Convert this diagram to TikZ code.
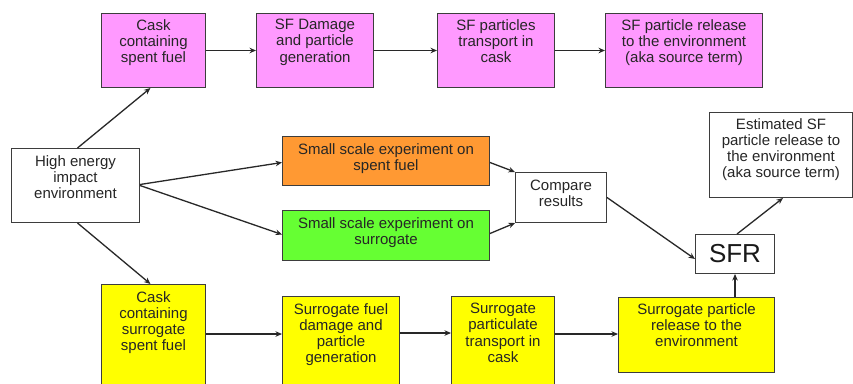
\documentclass[tikz,border=0pt]{standalone}
\usepackage{fontspec}
\setmainfont{Liberation Sans}
\usetikzlibrary{arrows.meta}
\definecolor{pinkc}{RGB}{255,153,255}
\definecolor{orangec}{RGB}{255,153,51}
\definecolor{greenc}{RGB}{102,255,51}
\definecolor{yellowc}{RGB}{255,255,0}
\definecolor{linec}{RGB}{40,40,40}
\tikzset{
  box/.style={draw=linec!90, line width=1pt, inner sep=0pt, anchor=north west},
  txt/.style={inner sep=0pt, anchor=north, align=center, text=black!85,
    font=\fontsize{15}{16.3}\selectfont},
  arr/.style={draw=linec, line width=1.3pt, -{Stealth[length=6.5pt,width=5.5pt]}},
}
\newcommand{\mybox}[6]{% name, x1,y1,x2,y2, fill
  \node[box, fill=#6, minimum width=#4pt-#2pt, minimum height=#5pt-#3pt] (#1) at (#2,#3) {};}
\begin{document}
\begin{tikzpicture}[x=1pt,y=-1pt]
\useasboundingbox (0,0) rectangle (853,383);
\clip (0,0) rectangle (853,383);
\fill[white] (0,0) rectangle (853,383);
% boxes
\mybox{c1}{101}{13}{205}{87}{pinkc}
\mybox{c2}{256}{13}{373}{87}{pinkc}
\mybox{c3}{437}{13}{554}{87}{pinkc}
\mybox{c4}{605}{13}{762}{87}{pinkc}
\mybox{he}{11}{148}{139}{222}{white}
\mybox{or}{282}{136}{489}{185}{orangec}
\mybox{gr}{282}{210}{489}{260}{greenc}
\mybox{cmp}{515}{172}{606}{222}{white}
\mybox{est}{709}{112}{852}{197}{white}
\mybox{sfr}{695}{234}{774}{273}{white}
\mybox{y1}{101}{284}{205}{395}{yellowc}
\mybox{y2}{282}{296}{399}{395}{yellowc}
\mybox{y3}{451}{296}{554}{395}{yellowc}
\mybox{y4}{618}{297}{774}{372}{yellowc}
% texts
\node[txt] (c1t) at ([yshift=-6pt]c1.north) {Cask\\containing\\spent fuel};
\node[txt] (c2t) at ([yshift=-6pt]c2.north) {SF Damage\\and particle\\generation};
\node[txt] (c3t) at ([yshift=-6pt]c3.north) {SF particles\\transport in\\cask};
\node[txt] (c4t) at ([yshift=-6pt]c4.north) {SF particle release\\to the environment\\(aka source term)};
\node[txt] (het) at ([yshift=-7pt]he.north) {High energy\\impact\\environment};
\node[txt] (ort) at ([yshift=-7pt]or.north) {Small scale experiment on\\spent fuel};
\node[txt] (grt) at ([yshift=-7pt]gr.north) {Small scale experiment on\\surrogate};
\node[txt] (cmpt) at ([yshift=-8pt]cmp.north) {Compare\\results};
\node[txt] (estt) at ([yshift=-6pt]est.north) {Estimated SF\\particle release to\\the environment\\(aka source term)};
\node[inner sep=0pt, text=black!90, font=\fontsize{26}{28}\selectfont] (sfrt) at (sfr.center) {SFR};
\node[txt] (y1t) at ([yshift=-7pt]y1.north) {Cask\\containing\\surrogate\\spent fuel};
\node[txt] (y2t) at ([yshift=-7pt]y2.north) {Surrogate fuel\\damage and\\particle\\generation};
\node[txt] (y3t) at ([yshift=-7pt]y3.north) {Surrogate\\particulate\\transport in\\cask};
\node[txt] (y4t) at ([yshift=-6pt]y4.north) {Surrogate particle\\release to the\\environment};
% connectors
\draw[arr] ([xshift=2pt]he.north) -- ([xshift=-3pt]c1.south);
\draw[arr] ([yshift=1pt]he.east) -- ([yshift=-1.5pt]or.west);
\draw[arr] (he.east) -- ([yshift=1pt]gr.west);
\draw[arr] ([xshift=2pt]he.south) -- ([xshift=-3pt]y1.north);
\draw[arr] (c1.east) -- (c2.west);
\draw[arr] (c2.east) -- (c3.west);
\draw[arr] (c3.east) -- (c4.west);
\draw[arr] ([yshift=-1.5pt]or.east) -- (cmp.north west);
\draw[arr] ([yshift=2pt]gr.east) -- (cmp.south west);
\draw[arr] (cmp.east) -- ([yshift=-5pt]sfr.west);
\draw[arr] ([xshift=2pt]sfr.north) -- ([xshift=2pt]est.south);
\draw[arr] (sfr.south |- y4.north) -- (sfr.south);
\draw[arr] (y1.east |- 0,334) -- (y2.west |- 0,334);
\draw[arr] (y2.east |- 0,333) -- (y3.west |- 0,333);
\draw[arr] (y3.east |- 0,334) -- (y4.west |- 0,334);
\end{tikzpicture}
\end{document}
